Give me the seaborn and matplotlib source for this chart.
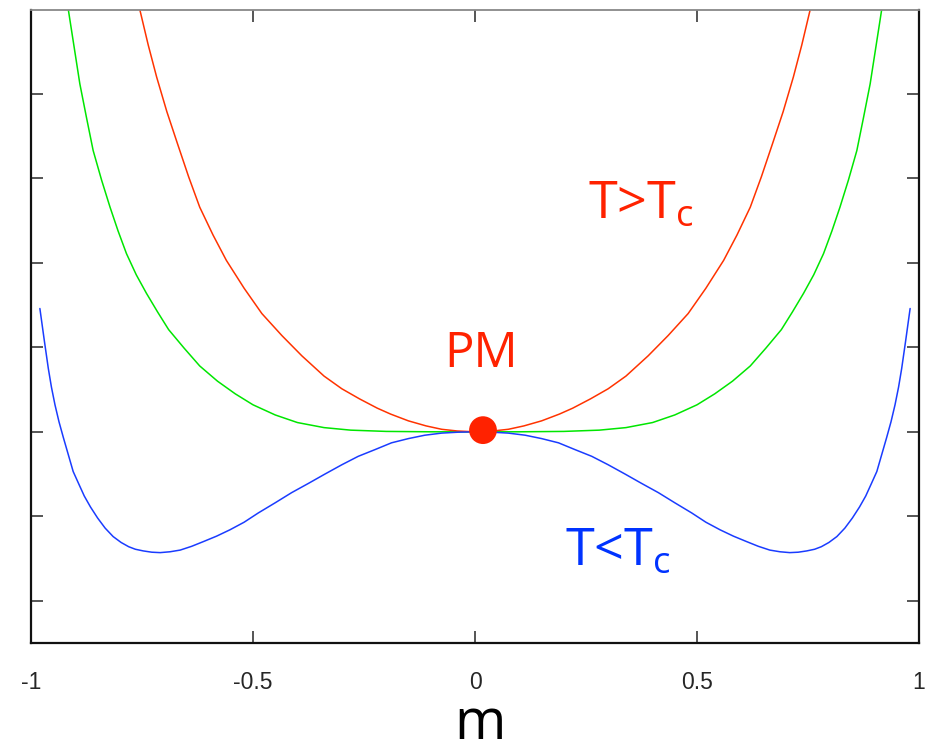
import matplotlib
matplotlib.use("Agg")
import matplotlib.pyplot as plt
import seaborn as sns
import pandas as pd

# ---- data ----
m_blue = [-0.980, -0.970, -0.961, -0.954, -0.946, -0.937, -0.927, -0.916, -0.905, -0.893,
          -0.880, -0.866, -0.850, -0.833, -0.815, -0.797, -0.780, -0.765, -0.747, -0.728,
          -0.709, -0.687, -0.664, -0.638, -0.612, -0.582, -0.552, -0.520, -0.488, -0.450,
          -0.413, -0.375, -0.338, -0.300, -0.263, -0.225, -0.188, -0.150, -0.113, -0.075,
          -0.037, 0.000,
          0.037, 0.075, 0.113, 0.150, 0.188, 0.225, 0.263, 0.300, 0.338, 0.375,
          0.413, 0.450, 0.488, 0.520, 0.552, 0.582, 0.612, 0.638, 0.664, 0.687,
          0.709, 0.728, 0.747, 0.765, 0.780, 0.797, 0.815, 0.833, 0.850, 0.866,
          0.880, 0.893, 0.905, 0.916, 0.927, 0.937, 0.946, 0.954, 0.961, 0.970, 0.980]
f_blue = [1.46, 1.08, 0.75, 0.53, 0.32, 0.12, -0.07, -0.27, -0.47, -0.61,
          -0.76, -0.89, -1.02, -1.14, -1.24, -1.31, -1.36, -1.39, -1.41, -1.425,
          -1.43, -1.42, -1.40, -1.355, -1.30, -1.235, -1.16, -1.07, -0.96, -0.84,
          -0.72, -0.61, -0.50, -0.39, -0.29, -0.21, -0.13, -0.08, -0.04, -0.015,
          -0.004, 0.000,
          -0.004, -0.015, -0.04, -0.08, -0.13, -0.21, -0.29, -0.39, -0.50, -0.61,
          -0.72, -0.84, -0.96, -1.07, -1.16, -1.235, -1.30, -1.355, -1.40, -1.42,
          -1.43, -1.425, -1.41, -1.39, -1.36, -1.31, -1.24, -1.14, -1.02, -0.89,
          -0.76, -0.61, -0.47, -0.27, -0.07, 0.12, 0.32, 0.53, 0.75, 1.08, 1.46]

m_green = [-0.916, -0.903, -0.890, -0.875, -0.860, -0.841, -0.822, -0.804, -0.785, -0.763,
           -0.740, -0.715, -0.690, -0.655, -0.620, -0.580, -0.540, -0.500, -0.450, -0.400,
           -0.340, -0.280, -0.200, -0.100, 0.000,
           0.100, 0.200, 0.280, 0.340, 0.400, 0.450, 0.500, 0.540, 0.580, 0.620,
           0.655, 0.690, 0.715, 0.740, 0.763, 0.785, 0.804, 0.822, 0.841, 0.860,
           0.875, 0.890, 0.903, 0.916]
f_green = [5.00, 4.56, 4.12, 3.72, 3.33, 2.98, 2.66, 2.38, 2.11, 1.86,
           1.64, 1.42, 1.21, 0.99, 0.78, 0.60, 0.45, 0.32, 0.20, 0.11,
           0.05, 0.02, 0.005, 0.0005, 0.000,
           0.0005, 0.005, 0.02, 0.05, 0.11, 0.20, 0.32, 0.45, 0.60, 0.78,
           0.99, 1.21, 1.42, 1.64, 1.86, 2.11, 2.38, 2.66, 2.98, 3.33,
           3.72, 4.12, 4.56, 5.00]

m_red = [-0.755, -0.736, -0.717, -0.694, -0.670, -0.645, -0.620, -0.590, -0.560, -0.520,
         -0.480, -0.435, -0.390, -0.340, -0.300, -0.260, -0.220, -0.190, -0.150, -0.110,
         -0.075, -0.040, 0.000,
         0.040, 0.075, 0.110, 0.150, 0.190, 0.220, 0.260, 0.300, 0.340, 0.390,
         0.435, 0.480, 0.520, 0.560, 0.590, 0.620, 0.645, 0.670, 0.694, 0.717,
         0.736, 0.755]
f_red = [5.00, 4.58, 4.20, 3.79, 3.41, 3.02, 2.66, 2.33, 2.03, 1.70,
         1.40, 1.14, 0.90, 0.66, 0.51, 0.39, 0.28, 0.21, 0.13, 0.07,
         0.03, 0.01, 0.00,
         0.01, 0.03, 0.07, 0.13, 0.21, 0.28, 0.39, 0.51, 0.66, 0.90,
         1.14, 1.40, 1.70, 2.03, 2.33, 2.66, 3.02, 3.41, 3.79, 4.20,
         4.58, 5.00]

pm_point_m = [0.018]
pm_point_f = [0.02]

x_ticks = [-1, -0.5, 0, 0.5, 1]
x_tick_labels = ["-1", "-0.5", "0", "0.5", "1"]
y_ticks = [-2, -1, 0, 1, 2, 3, 4]

label_pm = "PM"
label_hot = r"T>T$_{\mathregular{c}}$"
label_cold = r"T<T$_{\mathregular{c}}$"
x_label = "m"

# ---- style ----
sns.set_style("ticks")
plt.rcParams["font.family"] = ["Open Sans", "DejaVu Sans"]
plt.rcParams["mathtext.default"] = "regular"

RED_LINE = "#ff3300"
RED_TEXT = "#ff2200"
GREEN = "#00e600"
BLUE_LINE = "#1a3cff"
BLUE_TEXT = "#0033ff"

fig = plt.figure(figsize=(9.33, 7.55), dpi=100)
ax = fig.add_axes([31 / 933, 1 - 643 / 755, 888 / 933, 633.5 / 755])

df_blue = pd.DataFrame({"m": m_blue, "f": f_blue})
df_green = pd.DataFrame({"m": m_green, "f": f_green})
df_red = pd.DataFrame({"m": m_red, "f": f_red})

sns.lineplot(data=df_green, x="m", y="f", ax=ax, color=GREEN, lw=1.1, estimator=None, sort=False)
sns.lineplot(data=df_red, x="m", y="f", ax=ax, color=RED_LINE, lw=1.1, estimator=None, sort=False)
sns.lineplot(data=df_blue, x="m", y="f", ax=ax, color=BLUE_LINE, lw=1.1, estimator=None, sort=False)

sns.scatterplot(x=pm_point_m, y=pm_point_f, ax=ax, color=RED_TEXT, s=400,
                edgecolor="none", linewidth=0, zorder=5)

ax.set_xlim(-1, 1)
ax.set_ylim(-2.5, 5.0)
ax.set_xticks(x_ticks)
ax.set_xticklabels(x_tick_labels, family=["Liberation Sans", "DejaVu Sans"], fontsize=16.5)
ax.set_yticks(y_ticks)
ax.set_yticklabels([])
ax.set_xlabel("")
ax.set_ylabel("")

ax.tick_params(axis="both", which="major", direction="in", length=8.5, width=1.4,
               color="#555555", top=True, right=True)
ax.tick_params(axis="x", pad=20)

for side in ["left", "bottom", "right"]:
    ax.spines[side].set_color("#111111")
    ax.spines[side].set_linewidth(1.6)
ax.spines["top"].set_color("#888888")
ax.spines["top"].set_linewidth(1.3)

ax.text(0.0135, 0.77, label_pm, color=RED_TEXT, fontsize=35.5, ha="center", va="baseline")
ax.text(0.2545, 2.53, label_hot, color=RED_TEXT, fontsize=37.5, ha="left", va="baseline")
ax.text(0.2027, -1.57, label_cold, color=BLUE_TEXT, fontsize=37.5, ha="left", va="baseline")

fig.text(480 / 933, 0.002, x_label, fontsize=40, ha="center", va="bottom", color="black")

fig.savefig("out.png", dpi=100)
